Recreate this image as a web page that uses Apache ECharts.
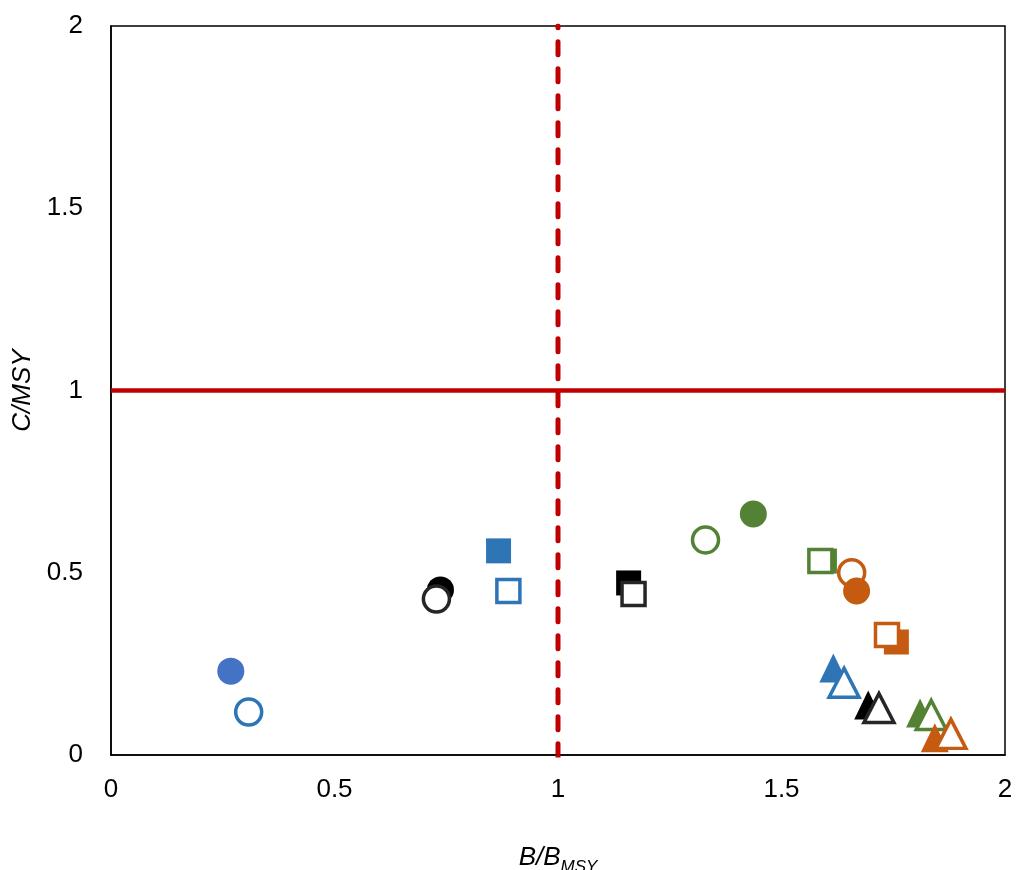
<!DOCTYPE html>
<html>
<head>
<meta charset="utf-8">
<script src="https://cdn.jsdelivr.net/npm/echarts@6/dist/echarts.min.js"></script>
<style>html,body{margin:0;padding:0;background:#fff}#c{width:1016px;height:870px}</style>
</head>
<body>
<div id="c"></div>
<script>
// ---- data ----
const xTicks = [0, 0.5, 1, 1.5, 2];
const yTicks = [0, 0.5, 1, 1.5, 2];
const pointNames = [
  'blue circle filled', 'blue circle open',
  'black circle filled', 'black circle open',
  'blue square filled', 'blue square open',
  'black square filled', 'black square open',
  'green circle open', 'green circle filled',
  'green square filled', 'green square open',
  'orange circle open', 'orange circle filled',
  'orange square filled', 'orange square open',
  'blue triangle filled', 'blue triangle open',
  'black triangle filled', 'black triangle open',
  'green triangle filled', 'green triangle open',
  'orange triangle filled', 'orange triangle open'
];
const bValues = [0.268, 0.308, 0.737, 0.728, 0.867, 0.889, 1.158, 1.169, 1.330, 1.437, 1.596, 1.587, 1.657, 1.668, 1.757, 1.736, 1.616, 1.640, 1.694, 1.718, 1.810, 1.835, 1.843, 1.879];
const cValues = [0.230, 0.118, 0.453, 0.428, 0.560, 0.450, 0.472, 0.442, 0.590, 0.661, 0.532, 0.532, 0.500, 0.450, 0.310, 0.329, 0.239, 0.198, 0.137, 0.129, 0.115, 0.110, 0.047, 0.058];
const refB = 1;
const refC = 1;

// ---- styles ----
const colorOf = {blue: '#2E75B6', blueC: '#4472C4', black: '#000000', blackO: '#262626', green: '#548235', orange: '#C55A11'};
const styleList = [
  ['blueC', 'circle', true], ['blue', 'circle', false],
  ['black', 'circle', true], ['blackO', 'circle', false],
  ['blue', 'rect', true], ['blue', 'rect', false],
  ['black', 'rect', true], ['blackO', 'rect', false],
  ['green', 'circle', false], ['green', 'circle', true],
  ['green', 'rect', true], ['green', 'rect', false],
  ['orange', 'circle', false], ['orange', 'circle', true],
  ['orange', 'rect', true], ['orange', 'rect', false],
  ['blue', 'triangle', true], ['blue', 'triangle', false],
  ['black', 'triangle', true], ['blackO', 'triangle', false],
  ['green', 'triangle', true], ['green', 'triangle', false],
  ['orange', 'triangle', true], ['orange', 'triangle', false]
];
function sizeOf(shape, filled) {
  if (shape === 'circle') return filled ? 27 : 26;
  if (shape === 'rect') return filled ? 25 : 23;
  return filled ? [28, 29] : [30, 29];
}
const font = 'Liberation Sans, Arial, sans-serif';

const series = [
  {
    type: 'line', data: [[0, refC], [2, refC]], symbol: 'none', silent: true,
    lineStyle: {color: '#C00000', width: 4.5}, z: 1
  },
  {
    type: 'line', data: [[refB, -0.005], [refB, 2]], symbol: 'none', silent: true,
    lineStyle: {color: '#C00000', width: 5, type: [13, 14], cap: 'round'}, z: 1
  }
];
pointNames.forEach((n, i) => {
  const [c, shape, filled] = styleList[i];
  const col = colorOf[c];
  series.push({
    type: 'scatter', name: n, data: [[bValues[i], cValues[i]]],
    symbol: shape, symbolSize: sizeOf(shape, filled), z: 2 + i * 0.01,
    itemStyle: filled ? {color: col, opacity: 1} : {color: '#ffffff', borderColor: col, borderWidth: 3.5, opacity: 1}
  });
});

const chart = echarts.init(document.getElementById('c'));
chart.setOption({
  animation: false,
  backgroundColor: '#fff',
  grid: {left: 111, right: 11, top: 26, bottom: 115, containLabel: false, outerBoundsMode: 'none',
    show: true, borderColor: '#000', borderWidth: 1.5, backgroundColor: 'transparent'},
  xAxis: {
    type: 'value', min: 0, max: 2, interval: 0.5,
    splitLine: {show: false}, axisTick: {show: false},
    axisLine: {show: true, lineStyle: {color: '#000', width: 1.5}},
    axisLabel: {color: '#000', fontSize: 26, fontFamily: font, margin: 22, formatter: v => String(v)},
    name: '{a|B/B}{b|MSY}', nameLocation: 'middle', nameGap: 90,
    nameTextStyle: {
      rich: {
        a: {fontSize: 26, fontStyle: 'italic', fontFamily: font, color: '#000', verticalAlign: 'top', lineHeight: 26},
        b: {fontSize: 17, fontStyle: 'italic', fontFamily: font, color: '#000', verticalAlign: 'top', padding: [14, 0, 0, 0], lineHeight: 17}
      }
    }
  },
  yAxis: {
    type: 'value', min: 0, max: 2, interval: 0.5,
    splitLine: {show: false}, axisTick: {show: false},
    axisLine: {show: true, lineStyle: {color: '#000', width: 1.5}},
    axisLabel: {color: '#000', fontSize: 26, fontFamily: font, margin: 28, formatter: v => String(v)},
    name: 'C/MSY', nameLocation: 'middle', nameGap: 72, nameRotate: 90,
    nameTextStyle: {fontSize: 26, fontStyle: 'italic', fontFamily: font, color: '#000'}
  },
  series: series
});
</script>
</body>
</html>
